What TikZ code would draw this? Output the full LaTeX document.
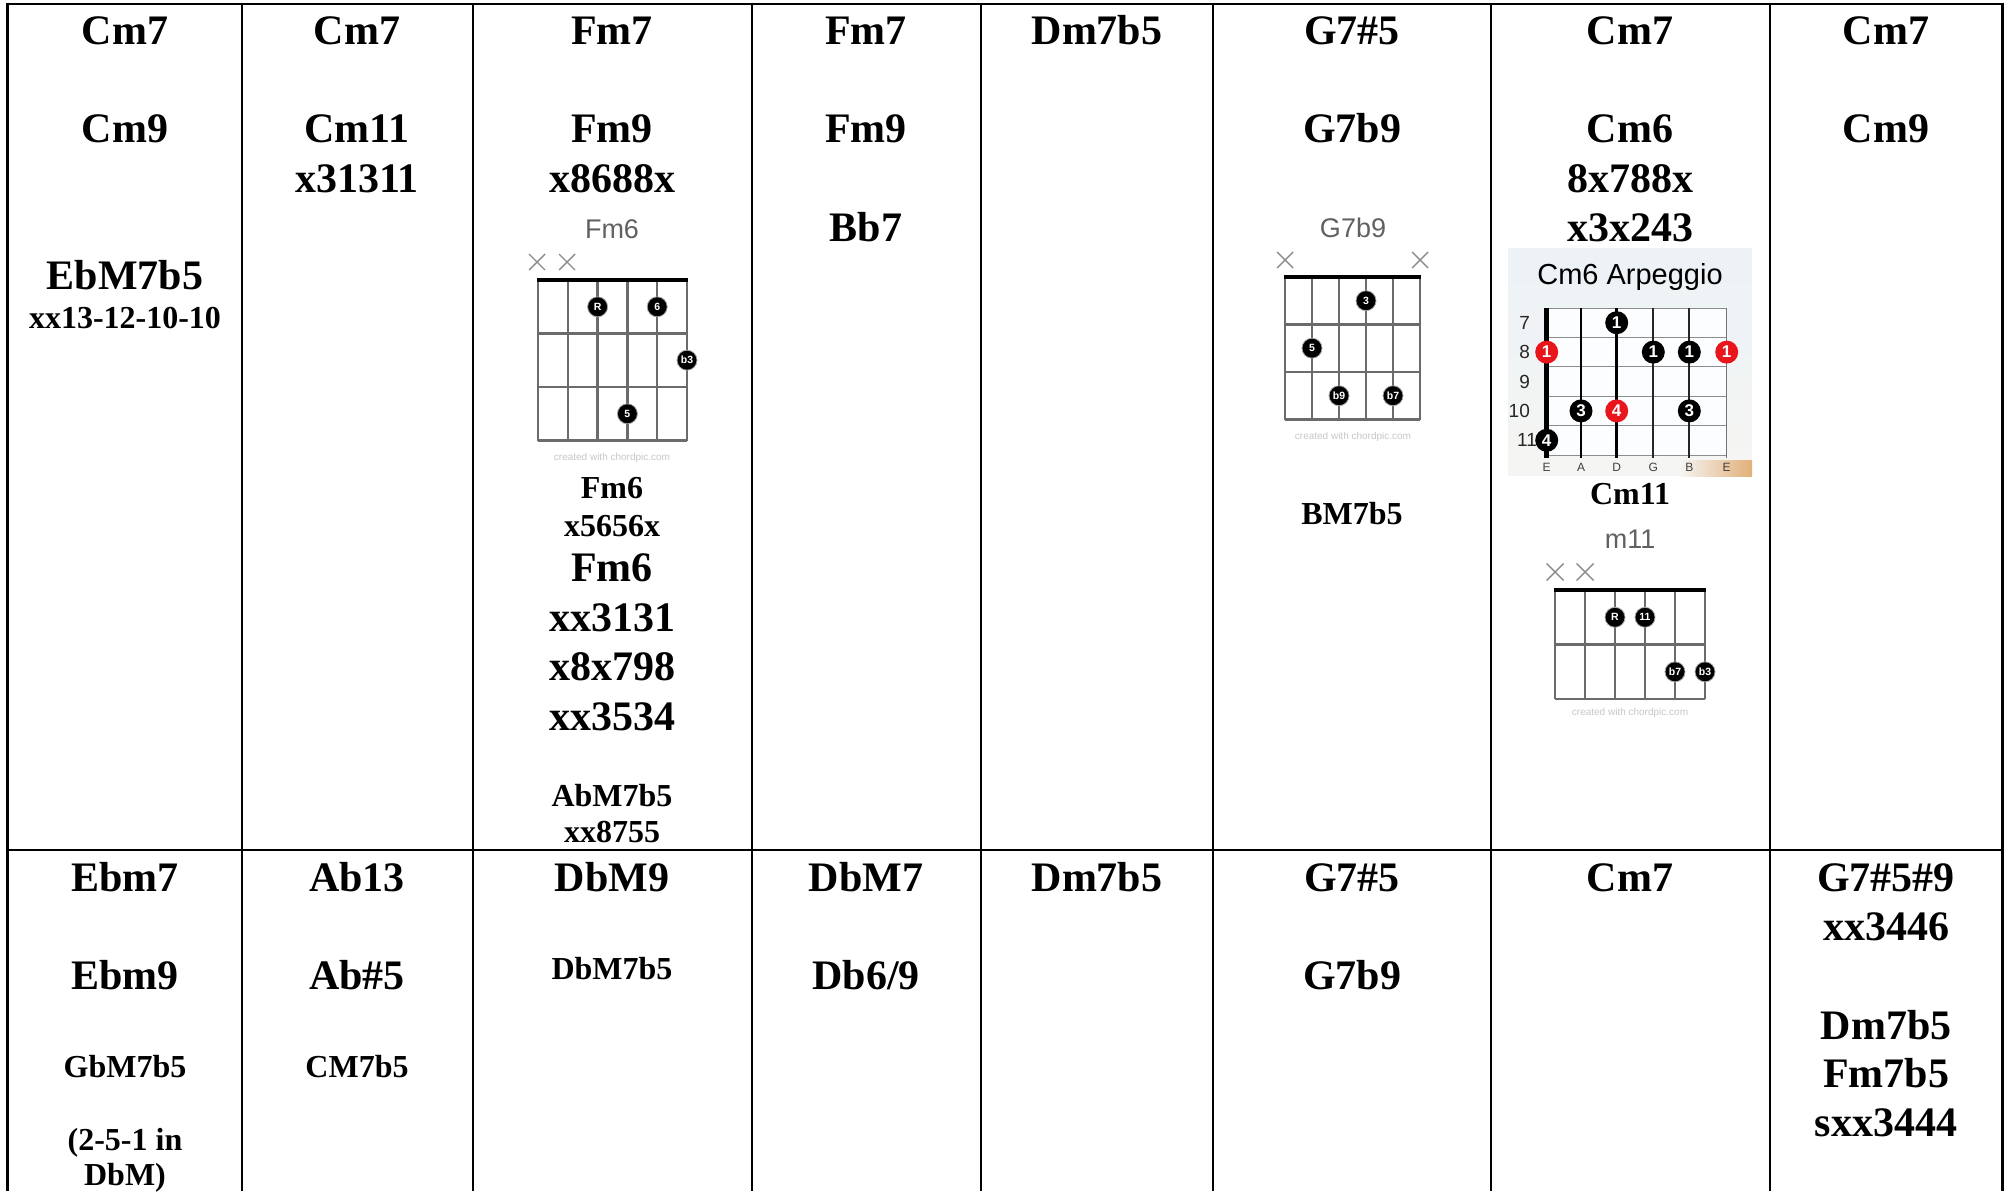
\documentclass[tikz,border=0pt]{standalone}
\usepackage{fontspec}
\setmainfont{Liberation Serif}
\newfontfamily\arial{Liberation Sans}
\definecolor{redot}{RGB}{232,22,28}
\definecolor{bgtop}{RGB}{236,242,246}
\definecolor{bgbot}{RGB}{245,245,243}
\definecolor{tan}{RGB}{226,176,120}
\begin{document}
\begin{tikzpicture}[x=1pt,y=-1pt,
  big/.style={font=\fontsize{42}{42}\selectfont\bfseries, anchor=base, inner sep=0pt},
  small/.style={font=\fontsize{32}{32}\selectfont\bfseries, anchor=base, inner sep=0pt},
  tabline/.style={line width=2.7pt, black},
  ctitle/.style={font=\arial\fontsize{27}{27}\selectfont, text=black!62, anchor=base, inner sep=0pt},
  cgrid/.style={line width=2.3pt, black!58},
  cnut/.style={line width=4.5pt, black},
  cmute/.style={line width=1.4pt, black!45},
  cdot/.style={circle, fill=black, draw=black!35, line width=0.8pt, minimum size=20pt, inner sep=0pt, text=white, font=\arial\bfseries\fontsize{10.5}{10.5}\selectfont},
  credit/.style={font=\arial\fontsize{10}{10}\selectfont, text=black!22, inner sep=0pt},
  adot/.style={circle, fill=black, minimum size=23pt, inner sep=0pt, text=white, font=\arial\bfseries\fontsize{17}{17}\selectfont},
  rdot/.style={adot, fill=redot},
  fretno/.style={font=\arial\fontsize{19}{19}\selectfont, text=black!85, anchor=east, inner sep=0pt},
  strname/.style={font=\arial\fontsize{12}{12}\selectfont, text=black!75, inner sep=0pt},
]
\useasboundingbox (0,0) rectangle (2009,1191);
\fill[white] (0,0) rectangle (2009,1191);

% ---------- table rules ----------
\draw[tabline] (6.15,4) -- (2003.85,4);
\draw[tabline] (6.15,850) -- (2003.85,850);
\foreach \x in {7.5,242,473,752,981,1213,1491,1770,2002.5}
  \draw[tabline] (\x,2.65) -- (\x,1191);

% ---------- row 1 ----------
\node[big] (a1) at (125,44) {Cm7};
\node[big] (a2) at (125,142) {Cm9};
\node[big] (a3) at (125,289) {EbM7b5};
\node[small] (a4) at (125,328) {xx13-12-10-10};

\node[big] (b1) at (357,44) {Cm7};
\node[big] (b2) at (357,142) {Cm11};
\node[big] (b3) at (357,192) {x31311};

\node[big] (c1) at (612,44) {Fm7};
\node[big] (c2) at (612,142) {Fm9};
\node[big] (c3) at (612,192) {x8688x};
\node[small] (c4) at (612,498) {Fm6};
\node[small] (c5) at (612,536) {x5656x};
\node[big] (c6) at (612,581) {Fm6};
\node[big] (c7) at (612,631) {xx3131};
\node[big] (c8) at (612,680) {x8x798};
\node[big] (c9) at (612,730) {xx3534};
\node[small] (c10) at (612,806) {AbM7b5};
\node[small] (c11) at (612,842) {xx8755};

\node[big] (d1) at (866,44) {Fm7};
\node[big] (d2) at (866,142) {Fm9};
\node[big] (d3) at (866,241) {Bb7};

\node[big] (e1) at (1097,44) {Dm7b5};

\node[big] (f1) at (1352,44) {G7\#5};
\node[big] (f2) at (1352,142) {G7b9};
\node[small] (f3) at (1352,524) {BM7b5};

\node[big] (g1) at (1630,44) {Cm7};
\node[big] (g2) at (1630,142) {Cm6};
\node[big] (g3) at (1630,192) {8x788x};
\node[big] (g4) at (1630,241) {x3x243};
\node[small] (g5) at (1630,504) {Cm11};

\node[big] (h1) at (1886,44) {Cm7};
\node[big] (h2) at (1886,142) {Cm9};

% ---------- row 2 ----------
\node[big] (a21) at (125,891) {Ebm7};
\node[big] (a22) at (125,989) {Ebm9};
\node[small] (a23) at (125,1077) {GbM7b5};
\node[small] (a24) at (125,1150) {(2-5-1 in};
\node[small] (a25) at (125,1185) {DbM)};

\node[big] (b21) at (357,891) {Ab13};
\node[big] (b22) at (357,989) {Ab\#5};
\node[small] (b23) at (357,1077) {CM7b5};

\node[big] (c21) at (612,891) {DbM9};
\node[small] (c22) at (612,979) {DbM7b5};

\node[big] (d21) at (866,891) {DbM7};
\node[big] (d22) at (866,989) {Db6/9};

\node[big] (e21) at (1097,891) {Dm7b5};

\node[big] (f21) at (1352,891) {G7\#5};
\node[big] (f22) at (1352,989) {G7b9};

\node[big] (g21) at (1630,891) {Cm7};

\node[big] (h21) at (1886,891) {G7\#5\#9};
\node[big] (h22) at (1886,940) {xx3446};
\node[big] (h23) at (1886,1039) {Dm7b5};
\node[big] (h24) at (1886,1087) {Fm7b5};
\node[big] (h25) at (1886,1136) {sxx3444};

% ---------- chord diagram Fm6 ----------
\node[ctitle] (fm6t) at (612,238) {Fm6};
\foreach \x in {537,567}
  \draw[cmute] (\x-8,254) -- (\x+8,270) (\x-8,270) -- (\x+8,254);
\foreach \i in {0,...,5}
  \draw[cgrid] (538+29.8*\i,280) -- (538+29.8*\i,440.5);
\foreach \y in {333.5,387,440.5}
  \draw[cgrid] (538,\y) -- (687,\y);
\draw[cnut] (536.9,280) -- (688.1,280);
\node[cdot] (fm6r) at (597.6,306.8) {R};
\node[cdot] (fm6s) at (657.2,306.8) {6};
\node[cdot] (fm6b) at (687,360.2) {b3};
\node[cdot] (fm6f) at (627.4,413.8) {5};
\node[credit] (fm6c) at (612,458) {created with chordpic.com};

% ---------- chord diagram G7b9 ----------
\node[ctitle] (g7t) at (1353,237) {G7b9};
\foreach \x in {1285,1420}
  \draw[cmute] (\x-8,252) -- (\x+8,268) (\x-8,268) -- (\x+8,252);
\foreach \i in {0,...,5}
  \draw[cgrid] (1285+27*\i,277) -- (1285+27*\i,419.5);
\foreach \y in {324.5,372,419.5}
  \draw[cgrid] (1285,\y) -- (1420,\y);
\draw[cnut] (1283.9,277) -- (1421.1,277);
\node[cdot] (g7a) at (1366,300.7) {3};
\node[cdot] (g7b) at (1312,348.2) {5};
\node[cdot] (g7c) at (1339,395.7) {b9};
\node[cdot] (g7d) at (1393,395.7) {b7};
\node[credit] (g7c2) at (1353,437) {created with chordpic.com};

% ---------- chord diagram m11 ----------
\node[ctitle] (m11t) at (1630,548) {m11};
\foreach \x in {1555,1585}
  \draw[cmute] (\x-8.5,563.5) -- (\x+8.5,580.5) (\x-8.5,580.5) -- (\x+8.5,563.5);
\foreach \i in {0,...,5}
  \draw[cgrid] (1555+30*\i,590) -- (1555+30*\i,699);
\foreach \y in {644.5,699}
  \draw[cgrid] (1555,\y) -- (1705,\y);
\draw[cnut] (1553.9,590) -- (1706.1,590);
\node[cdot] (m11a) at (1615,617.3) {R};
\node[cdot] (m11b) at (1645,617.3) {11};
\node[cdot] (m11c) at (1675,671.8) {b7};
\node[cdot] (m11d) at (1705,671.8) {b3};
\node[credit] (m11e) at (1630,713) {created with chordpic.com};

% ---------- Cm6 arpeggio picture ----------
\shade[top color=bgtop, bottom color=bgbot] (1508,248) rectangle (1752,462);
\fill[bgbot] (1508,460) rectangle (1680,476);
\shade[left color=bgbot, right color=tan] (1679.5,460) rectangle (1752,476);
\fill[white!85!bgtop] (1546.7,308) rectangle (1726.7,455);
\node[font=\arial\fontsize{29}{29}\selectfont, anchor=base, inner sep=0pt] (arpt) at (1630,284) {Cm6 Arpeggio};
\foreach \y in {308,337.4,366.8,396.2,425.6,455}
  \draw[line width=1pt, black!45] (1546.7,\y) -- (1726.7,\y);
\draw[line width=4.5pt, black] (1546.7,308) -- (1546.7,458);
\foreach \x in {1581,1616.7}
  \draw[line width=2.6pt, black] (\x,308) -- (\x,458);
\foreach \x in {1653.3,1689.3}
  \draw[line width=1.8pt, black!85] (\x,308) -- (\x,458);
\draw[line width=1.2pt, black!55] (1726.7,308) -- (1726.7,458);
\node[fretno] (n7) at (1530,322.7) {7};
\node[fretno] (n8) at (1530,352.1) {8};
\node[fretno] (n9) at (1530,381.5) {9};
\node[fretno] (n10) at (1530,410.9) {10};
\node[fretno] (n11) at (1537,440.3) {11};
\node[adot] (p1) at (1616.7,322.7) {1};
\node[rdot] (p2) at (1546.7,352.1) {1};
\node[adot] (p3) at (1653.3,352.1) {1};
\node[adot] (p4) at (1689.3,352.1) {1};
\node[rdot] (p5) at (1726.7,352.1) {1};
\node[adot] (p6) at (1581,410.9) {3};
\node[rdot] (p7) at (1616.7,410.9) {4};
\node[adot] (p8) at (1689.3,410.9) {3};
\node[adot] (p9) at (1546.7,440.3) {4};
\node[strname] (s1) at (1546.7,467) {E};
\node[strname] (s2) at (1581,467) {A};
\node[strname] (s3) at (1616.7,467) {D};
\node[strname] (s4) at (1653.3,467) {G};
\node[strname] (s5) at (1689.3,467) {B};
\node[strname] (s6) at (1726.7,467) {E};
\end{tikzpicture}
\end{document}
